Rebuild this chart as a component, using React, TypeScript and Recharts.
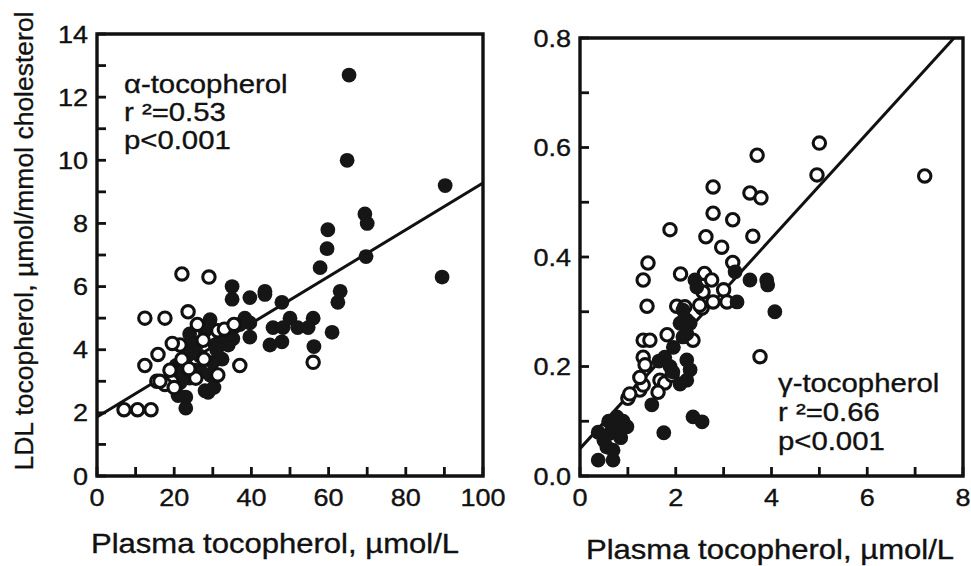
import React from 'react';
import { ScatterChart, Scatter, XAxis, YAxis, ReferenceLine, ReferenceArea } from 'recharts';

// alpha-tocopherol panel (left)
const alphaOpenX = [7, 10.5, 14, 12.4, 17.6, 23.6, 22, 29, 12.4, 15.8, 15.5, 37, 56, 19.4, 27.5, 26, 21.5, 19.5, 31.3, 33, 31.3, 27.7, 25.6, 22, 18.9, 17.6, 16.3, 35.5, 23.8, 20];
const alphaOpenY = [2.1, 2.1, 2.1, 5.0, 5.0, 5.2, 6.4, 6.3, 3.5, 3.85, 3.0, 3.5, 3.6, 3.0, 4.3, 4.8, 4.15, 4.2, 4.6, 4.65, 3.2, 3.7, 3.1, 3.7, 3.35, 2.9, 3.0, 4.8, 3.4, 2.8];
const alphaFilledX = [65.3, 64.8, 69.4, 70, 59.8, 59.6, 57.8, 69.7, 89.4, 90.2, 63, 62.4, 60.9, 56.2, 56, 47.9, 50, 45.6, 48.2, 52, 54.7, 44.8, 47.9, 43.5, 43.5, 39.6, 39.6, 39.6, 35, 35,
  23, 23, 21.5, 21, 25.4, 28, 28.8, 24, 24, 23.3, 30.6, 32.4, 30, 20.5, 25.4, 26.7, 34, 35.2, 37, 38.3, 29.3, 28, 29.3, 30.3, 24, 22, 26, 27, 32, 31];
const alphaFilledY = [12.7, 10.0, 8.3, 8.0, 7.8, 7.2, 6.6, 6.95, 6.3, 9.2, 5.85, 5.5, 4.55, 4.1, 5.0, 5.5, 5.0, 4.7, 4.7, 4.7, 4.7, 4.15, 4.25, 5.85, 5.75, 5.65, 4.85, 4.4, 6.0, 5.6,
  2.5, 2.15, 2.95, 2.55, 3.35, 2.7, 2.65, 4.5, 4.15, 3.8, 4.15, 3.7, 3.6, 3.5, 3.9, 3.8, 4.15, 4.35, 4.8, 5.0, 4.95, 4.6, 3.2, 2.8, 3.1, 3.3, 4.2, 3.3, 4.45, 4.0];
const alphaXTicks = [0, 10, 20, 30, 40, 50, 60, 70, 80, 90, 100];
const alphaYTicks = [0, 1, 2, 3, 4, 5, 6, 7, 8, 9, 10, 11, 12, 13, 14];
const alphaFit = { intercept: 1.87, slope: 0.0741 };

// gamma-tocopherol panel (right)
const gammaOpenX = [3.7, 2.78, 3.55, 3.78, 2.78, 3.19, 1.88, 2.63, 3.61, 2.96, 5.0, 4.95, 7.2, 3.76, 1.42, 1.32, 2.1, 2.6, 2.75, 3.19, 1.4, 1.32, 1.46, 1.32, 2.02, 1.82, 2.57, 3.0, 2.78, 2.55, 3.07, 2.36, 1.36, 1.67, 1.77, 1.63, 1.25, 1.0, 1.92, 1.32, 1.04, 1.25, 2.19, 2.5];
const gammaOpenY = [0.586, 0.528, 0.517, 0.508, 0.48, 0.468, 0.45, 0.437, 0.438, 0.418, 0.608, 0.55, 0.548, 0.218, 0.389, 0.358, 0.369, 0.37, 0.358, 0.39, 0.31, 0.248, 0.248, 0.217, 0.31, 0.258, 0.336, 0.34, 0.318, 0.307, 0.318, 0.248, 0.203, 0.175, 0.17, 0.153, 0.157, 0.142, 0.184, 0.166, 0.15, 0.18, 0.309, 0.312];
const gammaFilledX = [3.24, 3.55, 3.9, 3.92, 4.07, 3.28, 2.4, 2.44, 2.15, 2.23, 2.15, 2.23, 2.3, 2.23, 2.36, 2.55, 1.75, 2.09, 1.88, 1.94, 1.77, 2.09, 2.3, 2.23, 0.38, 0.63, 0.79, 0.98, 0.77, 0.56, 0.69, 0.38, 0.69, 0.85, 0.6, 0.9, 0.5, 1.5, 1.65, 1.95];
const gammaFilledY = [0.373, 0.358, 0.358, 0.349, 0.3, 0.318, 0.358, 0.345, 0.303, 0.285, 0.254, 0.212, 0.194, 0.175, 0.108, 0.099, 0.079, 0.168, 0.2, 0.19, 0.217, 0.279, 0.279, 0.26, 0.08, 0.078, 0.088, 0.09, 0.108, 0.053, 0.047, 0.029, 0.029, 0.07, 0.1, 0.1, 0.065, 0.13, 0.21, 0.235];
const gammaXTicks = [0, 1, 2, 3, 4, 5, 6, 7, 8];
const gammaYTicks = [0, 0.1, 0.2, 0.3, 0.4, 0.5, 0.6, 0.7, 0.8];
const gammaFit = { intercept: 0.05, slope: 0.096 };

const toPoints = (xs: number[], ys: number[]) => xs.map((x, i) => ({ x, y: ys[i] }));

const FONT = '"Liberation Sans", Arial, Helvetica, sans-serif';
const INK = '#111';
const SX = 1.15;
const PLOT_BOTTOM = 476;

function SText({ x, y, size, anchor = 'start', children }: any) {
  return (
    <text transform={`translate(${x},${y}) scale(${SX},1)`} fontFamily={FONT} fontSize={size} textAnchor={anchor}
      fill={INK} stroke={INK} strokeWidth={0.35}>
      {children}
    </text>
  );
}

const openDot = (p: any) => <circle cx={p.cx} cy={p.cy} r={6.2} fill="#fff" stroke={INK} strokeWidth={3.1} />;
const filledDot = (p: any) => <circle cx={p.cx} cy={p.cy} r={7.4} fill="#161616" />;

const xTick = (every: number, fmt: (v: number) => string) => (props: any) => {
  const { x, payload } = props;
  const v = payload.value;
  const labelled = Math.abs(v / every - Math.round(v / every)) < 1e-6;
  return (
    <g>
      <line x1={x} x2={x} y1={PLOT_BOTTOM} y2={PLOT_BOTTOM - 9} stroke={INK} strokeWidth={2.8} />
      {labelled && <SText x={x} y={PLOT_BOTTOM + 30} size={23.5} anchor="middle">{fmt(v)}</SText>}
    </g>
  );
};

const yTick = (left: number, every: number, fmt: (v: number) => string) => (props: any) => {
  const { y, payload } = props;
  const v = payload.value;
  const labelled = Math.abs(v / every - Math.round(v / every)) < 1e-6;
  return (
    <g>
      <line x1={left} x2={left + 9} y1={y} y2={y} stroke={INK} strokeWidth={2.8} />
      {labelled && <SText x={left - 9} y={y + 8.5} size={23.5} anchor="end">{fmt(v)}</SText>}
    </g>
  );
};

export default function App() {
  return (
    <div style={{ position: 'absolute', left: 0, top: 0, width: 971, height: 566, background: '#fff', overflow: 'hidden' }}>
      <div style={{ position: 'absolute', left: 0, top: 0 }}>
        <ScatterChart width={510} height={566} margin={{ top: 34, right: 27, bottom: 0, left: 0 }}>
          <XAxis type="number" dataKey="x" domain={[0, 100]} ticks={alphaXTicks} interval={0} height={90}
            axisLine={false} tickLine={false} tick={xTick(20, (v) => String(v))} allowDataOverflow />
          <YAxis type="number" dataKey="y" domain={[0, 14]} ticks={alphaYTicks} interval={0} width={97}
            axisLine={false} tickLine={false} tick={yTick(97, 2, (v) => String(v))} allowDataOverflow />
          <ReferenceArea x1={0} x2={100} y1={0} y2={14} fill="none" fillOpacity={0} stroke={INK} strokeWidth={3.4} ifOverflow="visible" />
          <ReferenceLine segment={[{ x: 0, y: alphaFit.intercept }, { x: 100, y: alphaFit.intercept + alphaFit.slope * 100 }]}
            stroke={INK} strokeWidth={3} ifOverflow="visible" />
          <Scatter data={toPoints(alphaFilledX, alphaFilledY)} shape={filledDot} isAnimationActive={false} />
          <Scatter data={toPoints(alphaOpenX, alphaOpenY)} shape={openDot} isAnimationActive={false} />
        </ScatterChart>
      </div>
      <div style={{ position: 'absolute', left: 500, top: 0 }}>
        <ScatterChart width={471} height={566} margin={{ top: 38, right: 8, bottom: 0, left: 0 }}>
          <XAxis type="number" dataKey="x" domain={[0, 8]} ticks={gammaXTicks} interval={0} height={90}
            axisLine={false} tickLine={false} tick={xTick(2, (v) => String(v))} allowDataOverflow />
          <YAxis type="number" dataKey="y" domain={[0, 0.8]} ticks={gammaYTicks} interval={0} width={80}
            axisLine={false} tickLine={false} tick={yTick(80, 0.2, (v) => v.toFixed(1))} allowDataOverflow />
          <ReferenceArea x1={0} x2={8} y1={0} y2={0.8} fill="none" fillOpacity={0} stroke={INK} strokeWidth={3.4} ifOverflow="visible" />
          <ReferenceLine segment={[{ x: 0, y: gammaFit.intercept }, { x: (0.8 - gammaFit.intercept) / gammaFit.slope, y: 0.8 }]}
            stroke={INK} strokeWidth={3} ifOverflow="visible" />
          <Scatter data={toPoints(gammaOpenX, gammaOpenY)} shape={openDot} isAnimationActive={false} />
          <Scatter data={toPoints(gammaFilledX, gammaFilledY)} shape={filledDot} isAnimationActive={false} />
        </ScatterChart>
      </div>
      <svg width={971} height={566} style={{ position: 'absolute', left: 0, top: 0, pointerEvents: 'none' }}>
        <text transform="translate(33,241) rotate(-90)" fontFamily={FONT} fontSize={26.5} textAnchor="middle"
          fill={INK} stroke={INK} strokeWidth={0.35}>
          LDL tocopherol, µmol/mmol cholesterol
        </text>
        <SText x={275} y={553} size={27} anchor="middle">Plasma tocopherol, µmol/L</SText>
        <SText x={770} y={559} size={27} anchor="middle">Plasma tocopherol, µmol/L</SText>
        <SText x={124} y={93} size={25.5}>α-tocopherol</SText>
        <SText x={124} y={121} size={25.5}>r ²=0.53</SText>
        <SText x={124} y={149} size={25.5}>p&lt;0.001</SText>
        <SText x={778} y={392} size={25.5}>γ-tocopherol</SText>
        <SText x={778} y={421} size={25.5}>r ²=0.66</SText>
        <SText x={778} y={450} size={25.5}>p&lt;0.001</SText>
      </svg>
    </div>
  );
}
